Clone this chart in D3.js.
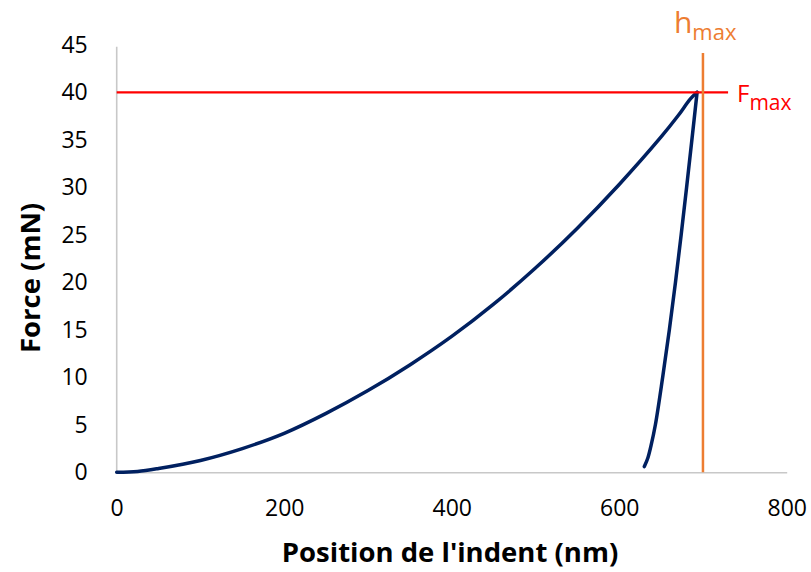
<!DOCTYPE html>
<html><head><meta charset="utf-8">
<script src="https://cdn.jsdelivr.net/npm/d3@7/dist/d3.min.js"></script>
<style>body{margin:0;background:#fff}svg{display:block}text{font-family:"Open Sans",sans-serif}</style>
</head><body><svg id="c" width="811" height="572"></svg>
<script>
const xTicks = [0, 200, 400, 600, 800];
const yTicks = [0, 5, 10, 15, 20, 25, 30, 35, 40, 45];
const loadX = [0, 25, 50, 100, 150, 200, 250, 300, 350, 400, 450, 500, 550, 600, 650, 670, 685, 693];
const loadY = [0, 0.08, 0.4, 1.25, 2.5, 4.1, 6.2, 8.6, 11.3, 14.3, 17.7, 21.5, 25.7, 30.3, 35.3, 37.5, 39.3, 40];
const unloadX = [693, 686.8, 680.5, 674.0, 667.2, 659.9, 651.9, 643.2, 638.0, 634.2, 630.0];
const unloadY = [40, 35, 30, 25, 20, 15, 10, 5, 2.8, 1.5, 0.6];
const Fmax = 40, hmax = 700;
const xTitle = "Position de l'indent (nm)", yTitle = "Force (mN)";

const svg = d3.select("#c");
const L = 116.7, R = 786.7, T = 44.8, B = 472.3;
const x = d3.scaleLinear().domain([0, 800]).range([L, R]);
const y = d3.scaleLinear().domain([0, 45]).range([B, T]);

const xa = svg.append("g").attr("transform", `translate(0,${B})`)
  .call(d3.axisBottom(x).tickValues(xTicks).tickSize(0).tickPadding(27));
const ya = svg.append("g").attr("transform", `translate(${L},0)`)
  .call(d3.axisLeft(y).tickValues(yTicks).tickSize(0).tickPadding(29));
[xa, ya].forEach(a => {
  a.select(".domain").attr("stroke", "#c8c8c8").attr("stroke-width", 1.6);
  a.selectAll("text").attr("font-size", 23).attr("fill", "#000").attr("font-family", "Open Sans");
});
ya.select(".domain").attr("d", `M0,${B}V${T+2}`);

const curve = d3.line().x(d => x(d[0])).y(d => y(d[1])).curve(d3.curveCatmullRom);
svg.append("path").datum(loadX.map((v, i) => [v, loadY[i]]))
  .attr("d", curve).attr("fill", "none").attr("stroke", "#002060").attr("stroke-width", 3.5).attr("stroke-linecap", "round");
svg.append("path").datum(unloadX.map((v, i) => [v, unloadY[i]]))
  .attr("d", curve).attr("fill", "none").attr("stroke", "#002060").attr("stroke-width", 3.5).attr("stroke-linecap", "round");

svg.append("line").attr("x1", x(0)).attr("x2", x(730)).attr("y1", y(Fmax)).attr("y2", y(Fmax))
  .attr("stroke", "#ff0000").attr("stroke-width", 2.2);
svg.append("line").attr("x1", x(hmax)).attr("x2", x(hmax)).attr("y1", 53).attr("y2", B)
  .attr("stroke", "#ed7d31").attr("stroke-width", 2.5);

const ht = svg.append("text").attr("x", x(hmax) - 29).attr("y", 33).attr("fill", "#ed7d31").attr("font-size", 30);
ht.append("tspan").text("h");
ht.append("tspan").attr("font-size", 22).attr("dy", 7).text("max");
const ft = svg.append("text").attr("x", 737).attr("y", y(Fmax) + 9.5).attr("fill", "#ff0000").attr("font-size", 24);
ft.append("tspan").text("F");
ft.append("tspan").attr("font-size", 21).attr("dy", 8).text("max");

svg.append("text").attr("x", 450).attr("y", 562).attr("text-anchor", "middle")
  .attr("font-weight", "bold").attr("font-size", 27.5).text(xTitle);
svg.append("text").attr("transform", `translate(40,278) rotate(-90)`).attr("text-anchor", "middle")
  .attr("font-weight", "bold").attr("font-size", 27.5).text(yTitle);
</script></body></html>
